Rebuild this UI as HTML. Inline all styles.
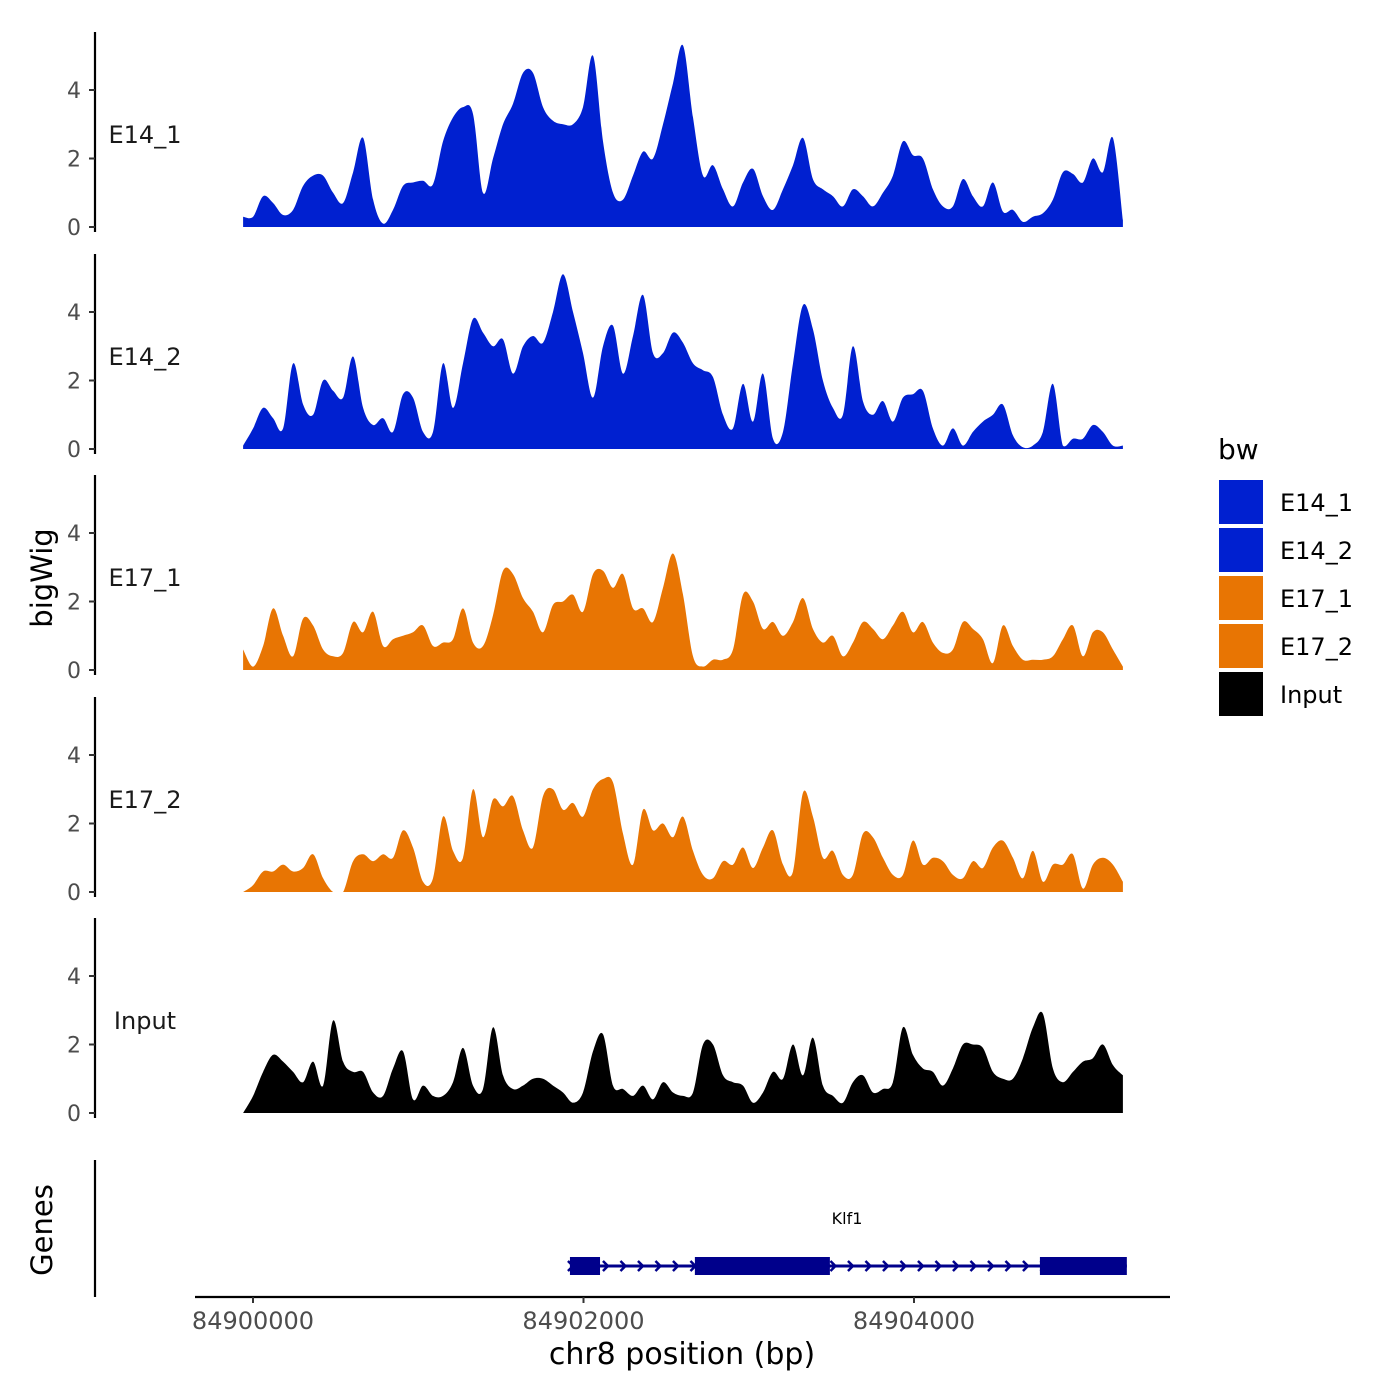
<!DOCTYPE html>
<html><head><meta charset="utf-8"><style>
body{margin:0;background:#fff}
svg{display:block;font-family:"DejaVu Sans","Liberation Sans",sans-serif}
</style></head><body>
<svg id="chart" width="1400" height="1400" viewBox="0 0 1400 1400">
<rect width="1400" height="1400" fill="#fff"/>
</svg>
<script>
const trackNames = ["E14_1","E14_2","E17_1","E17_2","Input"];
const trackColors = ["#0020D0","#0020D0","#E87503","#E87503","#000000"];
const binStartBp = 84899940;
const binStepBp = 60.5;
const e14_1 = [0.3,0.3,0.9,0.7,0.35,0.5,1.2,1.5,1.5,1.0,0.7,1.6,2.6,0.8,0.1,0.5,1.2,1.3,1.35,1.25,2.5,3.2,3.5,3.3,1.0,2.0,3.0,3.6,4.5,4.5,3.5,3.1,3.0,3.0,3.5,5.0,2.5,1.0,0.8,1.5,2.2,2.0,3.0,4.2,5.3,3.2,1.5,1.8,1.1,0.6,1.3,1.7,0.9,0.5,1.1,1.8,2.6,1.4,1.1,0.9,0.6,1.1,0.9,0.6,1.0,1.5,2.5,2.1,2.0,1.1,0.6,0.6,1.4,0.9,0.6,1.3,0.45,0.5,0.15,0.3,0.4,0.8,1.6,1.55,1.3,2.0,1.6,2.6,0.2];
const e14_2 = [0.1,0.6,1.2,0.9,0.6,2.5,1.3,1.0,2.0,1.7,1.5,2.7,1.2,0.7,0.9,0.5,1.6,1.5,0.5,0.5,2.5,1.2,2.5,3.8,3.4,3.0,3.2,2.2,3.0,3.3,3.1,4.0,5.1,4.0,2.8,1.5,3.0,3.6,2.2,3.3,4.5,2.8,2.8,3.4,3.1,2.5,2.3,2.1,1.0,0.6,1.9,0.8,2.2,0.3,0.5,2.5,4.2,3.5,2.0,1.2,1.0,3.0,1.4,1.0,1.4,0.8,1.5,1.6,1.7,0.6,0.1,0.6,0.1,0.5,0.8,1.0,1.3,0.4,0.05,0.1,0.5,1.9,0.1,0.3,0.3,0.7,0.5,0.1,0.1];
const e17_1 = [0.6,0.1,0.7,1.8,1.0,0.4,1.5,1.3,0.6,0.4,0.5,1.4,1.1,1.7,0.7,0.9,1.0,1.1,1.3,0.7,0.8,0.9,1.8,0.8,0.7,1.6,2.9,2.8,2.1,1.7,1.1,1.9,2.0,2.2,1.7,2.8,2.9,2.4,2.8,1.8,1.8,1.4,2.4,3.4,2.2,0.4,0.1,0.3,0.3,0.6,2.2,2.0,1.2,1.4,1.0,1.4,2.1,1.2,0.8,1.0,0.4,0.8,1.4,1.2,0.9,1.3,1.7,1.1,1.4,0.8,0.5,0.6,1.4,1.2,0.9,0.2,1.3,0.7,0.3,0.3,0.3,0.4,0.9,1.3,0.4,1.1,1.1,0.6,0.1];
const e17_2 = [0,0.2,0.6,0.6,0.8,0.6,0.7,1.1,0.4,0,0,0.9,1.1,0.9,1.1,1.0,1.8,1.3,0.3,0.4,2.2,1.2,1.0,3.0,1.6,2.7,2.5,2.8,1.8,1.3,2.8,3.0,2.4,2.6,2.2,3.0,3.3,3.2,1.7,0.8,2.4,1.8,2.0,1.6,2.2,1.2,0.5,0.4,0.9,0.8,1.3,0.7,1.3,1.8,0.8,0.6,2.9,2.2,1.0,1.2,0.5,0.5,1.7,1.6,1.0,0.5,0.5,1.5,0.8,1.0,0.9,0.5,0.4,0.9,0.7,1.3,1.5,1.0,0.4,1.2,0.3,0.8,0.8,1.1,0.1,0.8,1.0,0.8,0.3];
const inputTrack = [0,0.5,1.2,1.7,1.5,1.2,0.9,1.5,0.8,2.7,1.5,1.2,1.2,0.6,0.5,1.3,1.8,0.4,0.8,0.5,0.5,0.9,1.9,0.8,0.7,2.5,1.1,0.7,0.8,1.0,1.0,0.8,0.6,0.3,0.6,1.8,2.3,0.8,0.7,0.5,0.8,0.4,0.9,0.6,0.5,0.6,2.0,2.0,1.1,0.9,0.8,0.3,0.6,1.2,1.0,2.0,1.1,2.2,0.8,0.5,0.3,0.9,1.1,0.6,0.7,0.9,2.5,1.7,1.3,1.2,0.8,1.3,2.0,2.0,1.9,1.2,1.0,1.0,1.6,2.5,2.9,1.3,0.9,1.2,1.5,1.6,2.0,1.4,1.1];
const trackValues = [e14_1,e14_2,e17_1,e17_2,inputTrack];
const yTicks = [0,2,4];
const xTicks = [84900000,84902000,84904000];
const exonStarts = [84901918,84902674,84904762];
const exonEnds = [84902100,84903491,84905288];
const geneStart = 84901918, geneEnd = 84905288;

const NS="http://www.w3.org/2000/svg";
const svg=document.getElementById('chart');
function mk(tag,attrs,parent){const e=document.createElementNS(NS,tag);for(const k in attrs)e.setAttribute(k,attrs[k]);(parent||svg).appendChild(e);return e;}
const xScale=bp=>253+(bp-84900000)*0.16525;
const panelZero=[227,449,670,892,1113];
const unitPx=34.25;

trackNames.forEach((name,t)=>{
  const g=mk('g',{});
  
  
  const y0=panelZero[t];
  const yS=v=>y0-v*unitPx;
  const vals=trackValues[t];
  const pts=vals.map((v,i)=>[xScale(binStartBp+i*binStepBp),yS(v)]);
  let d='M'+pts[0][0].toFixed(1)+','+y0+' L'+pts[0][0].toFixed(1)+','+pts[0][1].toFixed(1);
  for(let i=0;i<pts.length-1;i++){
    const p0=pts[Math.max(0,i-1)],p1=pts[i],p2=pts[i+1],p3=pts[Math.min(pts.length-1,i+2)];
    const c1x=p1[0]+(p2[0]-p0[0])/6, c1y=Math.min(y0,p1[1]+(p2[1]-p0[1])/6);
    const c2x=p2[0]-(p3[0]-p1[0])/6, c2y=Math.min(y0,p2[1]-(p3[1]-p1[1])/6);
    d+=` C${c1x.toFixed(1)},${c1y.toFixed(1)} ${c2x.toFixed(1)},${c2y.toFixed(1)} ${p2[0].toFixed(1)},${p2[1].toFixed(1)}`;
  }
  d+=' L'+pts[pts.length-1][0].toFixed(1)+','+y0+' Z';
  const a=mk('path',{d:d,fill:trackColors[t]},g);
  
  
  const ax=mk('line',{x1:95,x2:95,y1:y0-195,y2:y0+5,stroke:'#000','stroke-width':2.2},g);
  
  
  yTicks.forEach(v=>{
    mk('line',{x1:89,x2:95,y1:yS(v),y2:yS(v),stroke:'#333','stroke-width':2},g);
    const tx=mk('text',{x:81,y:yS(v)+8,'text-anchor':'end','font-size':22,fill:'#4d4d4d'},g);
    tx.textContent=v;
    
    
  });
  const lb=mk('text',{x:145,y:y0-84,'text-anchor':'middle','font-size':24,fill:'#1a1a1a'},g);
  lb.textContent=name;
  
  
});

const gg=mk('g',{});


mk('line',{x1:95,x2:95,y1:1160,y2:1297,stroke:'#000','stroke-width':2.2},gg);
mk('line',{x1:xScale(geneStart),x2:xScale(geneEnd),y1:1266,y2:1266,stroke:'#00008B','stroke-width':3},gg);
for(let x=xScale(geneStart)+2;x<xScale(geneEnd);x+=17.5){
  mk('path',{d:`M${x-4},${1261} L${x+1},${1266} L${x-4},${1271}`,fill:'none',stroke:'#00008B','stroke-width':2.5},gg);
}
exonStarts.forEach((s,i)=>{
  const r=mk('rect',{x:xScale(s),y:1257,width:xScale(exonEnds[i])-xScale(s),height:18,fill:'#00008B'},gg);
  
  
});
const gl=mk('text',{x:847,y:1224,'text-anchor':'middle','font-size':16,fill:'#000'},gg);
gl.textContent='Klf1';



const xa=mk('g',{});


mk('line',{x1:195,x2:1170,y1:1297,y2:1297,stroke:'#000','stroke-width':2.2},xa);
xTicks.forEach(v=>{
  mk('line',{x1:xScale(v),x2:xScale(v),y1:1297,y2:1303,stroke:'#333','stroke-width':2},xa);
  const t=mk('text',{x:xScale(v),y:1329,'text-anchor':'middle','font-size':24,fill:'#4d4d4d'},xa);
  t.textContent=v;
  
  
});

function mt(txt,attrs,name){const e=document.createElementNS(NS,'text');for(const k in attrs)e.setAttribute(k,attrs[k]);e.textContent=txt;


svg.appendChild(e);return e;}
mt('chr8 position (bp)',{x:682,y:1364,'text-anchor':'middle','font-size':30,fill:'#000'},'x-axis-title');
mt('bigWig',{x:0,y:0,transform:'translate(52,578) rotate(-90)','text-anchor':'middle','font-size':29,fill:'#000'},'y-axis-title');
mt('Genes',{x:0,y:0,transform:'translate(52,1230) rotate(-90)','text-anchor':'middle','font-size':29,fill:'#000'},'genes-axis-title');
mt('bw',{x:1218,y:459,'font-size':28,fill:'#000'},'legend-title');
const legLabels=["E14_1","E14_2","E17_1","E17_2","Input"];
legLabels.forEach((l,i)=>{
  const r=mk('rect',{x:1219,y:480+i*48,width:44,height:44,fill:trackColors[i]});
  
  
  mt(l,{x:1280,y:511+i*48,'font-size':24,fill:'#000'},'legend-entry');
});
</script>
</body></html>
